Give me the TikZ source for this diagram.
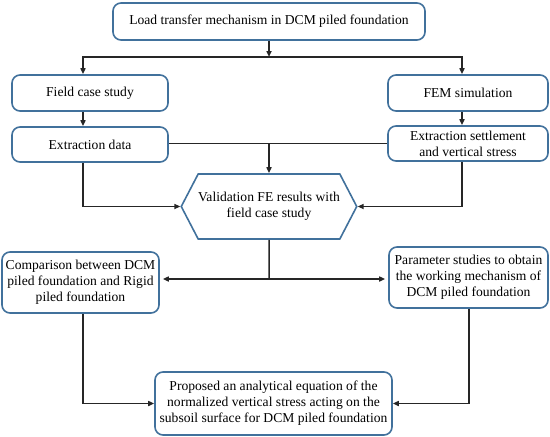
\documentclass[tikz,border=0pt]{standalone}
\usepackage{fontspec}
\setmainfont{Liberation Serif}
\usetikzlibrary{shapes.symbols,arrows.meta}
\definecolor{boxblue}{RGB}{65,113,156}
\tikzset{
  box/.style={draw=boxblue, line width=1.6pt, rounded corners=8pt, fill=white,
    align=center, inner sep=1pt, font=\fontsize{13.6}{16}\selectfont},
  hexbox/.style={draw=boxblue, line width=1.6pt, fill=white, shape=signal,
    signal to=west and east, signal pointer angle=125, align=center,
    inner sep=0pt, minimum width=172pt, minimum height=65pt,
    font=\fontsize{13.6}{16}\selectfont},
  link/.style={line width=1.5pt, draw=black!85},
  arr/.style={link, -{Triangle[length=6pt,width=5pt]}},
}

\begin{document}
\begin{tikzpicture}[x=1pt, y=-1pt]
    \useasboundingbox (0,0) rectangle (550,437);

    % coordinates to be reused
    \coordinate (lc) at (83,0);
    \coordinate (rc) at (462,0);
    \coordinate (rc2) at (469,0);
    \coordinate (hub) at (269,57);
    \coordinate (hub2) at (269,279);

    % boxes
    \node [box, minimum width=312pt, minimum height=37pt] (load) at (269,21.5)
      {Load transfer mechanism in DCM piled foundation};
    \node [box, minimum width=156pt, minimum height=36pt] (field) at (90,93)
      {Field case study};
    \node [box, minimum width=160pt, minimum height=36pt] (fem) at (468,93)
      {FEM simulation};
    \node [box, minimum width=156pt, minimum height=35pt] (extract) at (90,144.5)
      {Extraction data};
    \node [box, minimum width=160pt, minimum height=35pt] (extset) at (468,143.5)
      {Extraction settlement\\and vertical stress};
    \node [hexbox] (valid) at (269,206.5)
      {Validation FE results with\\field case study};
    \node [box, minimum width=157pt, minimum height=61pt] (comp) at (80.5,282.5)
      {Comparison between DCM\\piled foundation and Rigid\\piled foundation};
    \node [box, minimum width=159pt, minimum height=61pt] (param) at (468.5,277.5)
      {Parameter studies to obtain\\the working mechanism of\\DCM piled foundation};
    \node [box, minimum width=237pt, minimum height=63pt] (final) at (273.5,403.5)
      {Proposed an analytical equation of the\\normalized vertical stress acting on the\\subsoil surface for DCM piled foundation};

    % connectors
    \draw [arr] (load) -- (hub);
    \draw [arr] (hub) -| (lc |- field.north);
    \draw [arr] (hub) -| (rc |- fem.north);
    \draw [arr] (lc |- field.south) -- (lc |- extract.north);
    \draw [arr] (rc |- fem.south) -- (rc |- extset.north);
    \draw [link] (extset.west) -- (extset.west -| extract.east);
    \draw [arr] (valid.north |- extset.west) -- (valid.north);
    \draw [arr] (lc |- extract.south) |- (valid.west);
    \draw [arr] (rc |- extset.south) |- (valid.east);
    \draw [link] (valid) -- (hub2);
    \draw [arr, shorten >=3pt] (hub2) -- (comp.east |- hub2);
    \draw [arr, shorten >=3pt] (hub2) -- (param.west |- hub2);
    \draw [arr] (lc |- comp.south) |- (final.west);
    \draw [arr] (rc2 |- param.south) |- (final.east);
\end{tikzpicture}
\end{document}
